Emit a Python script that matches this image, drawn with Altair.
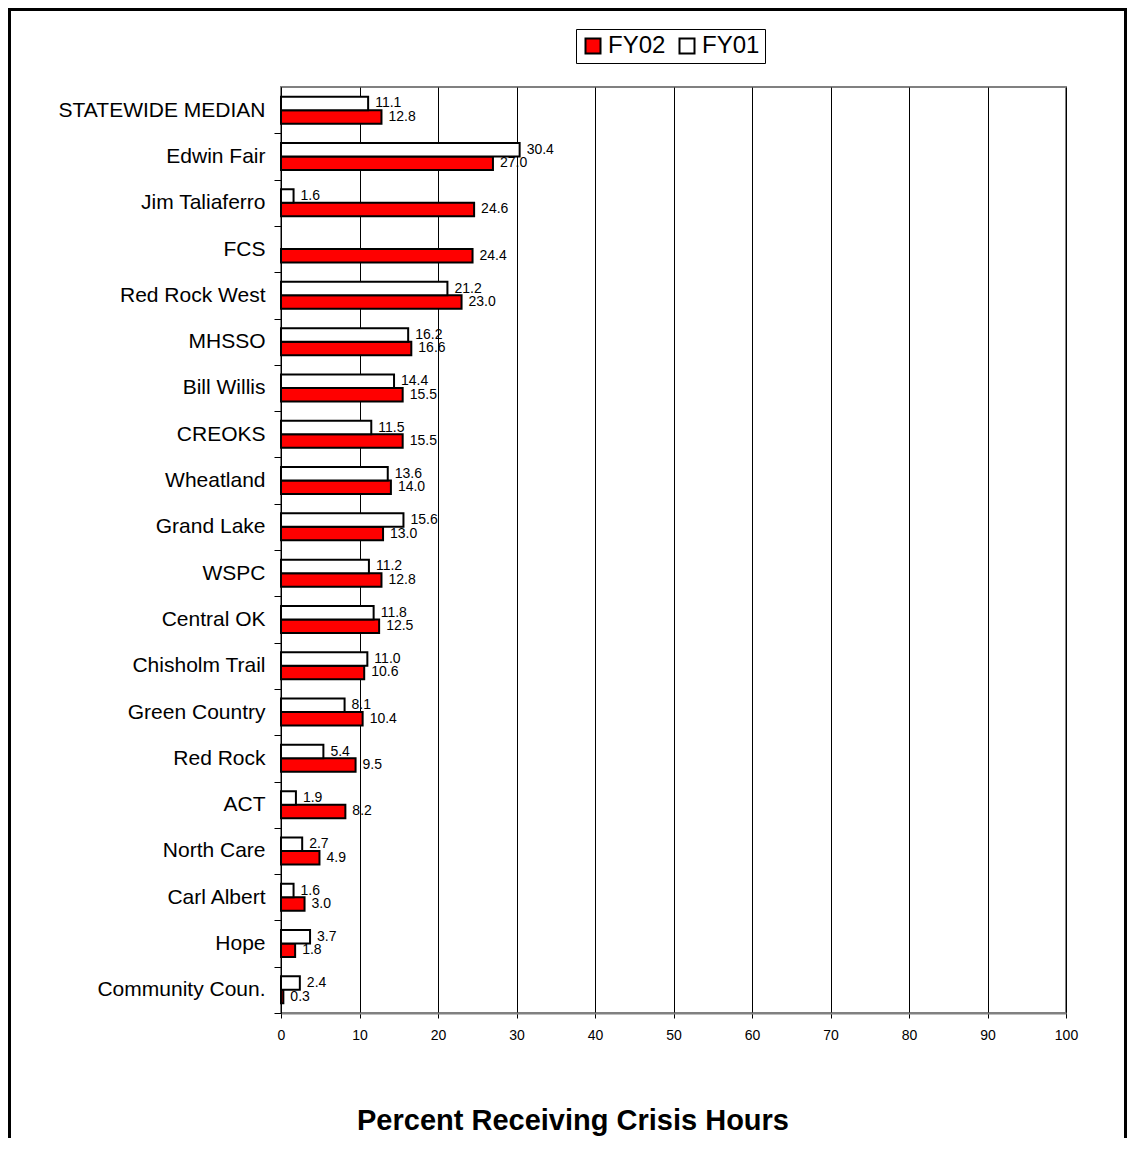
import altair as alt
import pandas as pd

categories = ["STATEWIDE MEDIAN", "Edwin Fair", "Jim Taliaferro", "FCS", "Red Rock West",
              "MHSSO", "Bill Willis", "CREOKS", "Wheatland", "Grand Lake", "WSPC",
              "Central OK", "Chisholm Trail", "Green Country", "Red Rock", "ACT",
              "North Care", "Carl Albert", "Hope", "Community Coun."]
fy02 = [12.8, 27.0, 24.6, 24.4, 23.0, 16.6, 15.5, 15.5, 14.0, 13.0, 12.8, 12.5, 10.6,
        10.4, 9.5, 8.2, 4.9, 3.0, 1.8, 0.3]
fy01 = [11.1, 30.4, 1.6, None, 21.2, 16.2, 14.4, 11.5, 13.6, 15.6, 11.2, 11.8, 11.0,
        8.1, 5.4, 1.9, 2.7, 1.6, 3.7, 2.4]
series = ["FY02", "FY01"]
series_colors = ["#ff0000", "#ffffff"]
x_ticks = list(range(0, 101, 10))
title_text = "Percent Receiving Crisis Hours"

rows = []
for c, a, b in zip(categories, fy02, fy01):
    rows.append({"center": c, "series": "FY02", "value": a})
    if b is not None:
        rows.append({"center": c, "series": "FY01", "value": b})
df = pd.DataFrame(rows)

W, H = 785, 926
PL, PT, PR, PB = 273, 79, 61, 125
FONT = "Liberation Sans"
HALF_STEP = H / len(categories) / 2

y_enc = alt.Y(
    "center:N", sort=categories, title=None,
    scale=alt.Scale(paddingInner=0.417, paddingOuter=0.2085),
    axis=alt.Axis(tickOffset=HALF_STEP, labelOffset=-HALF_STEP,
                  domainColor="black", domainWidth=1,
                  tickColor="black", tickSize=7, labelFontSize=21, labelFont=FONT,
                  labelColor="black", labelPadding=9, labelLimit=0, grid=False),
)
yoff = alt.YOffset("series:N", sort=["FY01", "FY02"])
x_enc = alt.X(
    "value:Q", title=None, scale=alt.Scale(domain=[0, 100], nice=False),
    axis=alt.Axis(values=x_ticks, grid=True, gridColor="black", gridWidth=1,
                  domainColor="#808080", domainWidth=2, tickColor="black", tickSize=5,
                  labelFontSize=14, labelFont="Liberation Sans Narrow, Liberation Sans",
                  labelColor="black", labelPadding=10, labelFlush=False),
)

bars = alt.Chart(df).mark_bar(stroke="black", strokeWidth=2).encode(
    x=x_enc, y=y_enc, yOffset=yoff,
    color=alt.Color("series:N", scale=alt.Scale(domain=series, range=series_colors),
                    legend=alt.Legend(orient="none", legendX=295, legendY=-58,
                                      direction="horizontal", columns=2, title=None,
                                      strokeColor="black", padding=5, fillColor="white",
                                      symbolType="square", symbolSize=225,
                                      symbolStrokeColor="black", symbolStrokeWidth=2,
                                      symbolOpacity=1, labelFontSize=24, labelFont=FONT,
                                      labelColor="black", labelOffset=3, columnPadding=9)),
)

labels = alt.Chart(df).mark_text(align="left", baseline="middle", dx=7, fontSize=14,
                                 font=FONT, color="black").encode(
    x="value:Q", y=alt.Y("center:N", sort=categories), yOffset=yoff,
    text=alt.Text("value:Q", format=".1f"),
)

one = pd.DataFrame({"k": [0]})
frame_left = alt.Chart(one).mark_rule(color="black", strokeWidth=3).encode(
    x=alt.value(-271.5), y=alt.value(-79), y2=alt.value(H + PB))
frame_right = alt.Chart(one).mark_rule(color="black", strokeWidth=3).encode(
    x=alt.value(W + PR - 1.5), y=alt.value(-79), y2=alt.value(H + PB))
frame_top = alt.Chart(one).mark_rule(color="black", strokeWidth=3).encode(
    x=alt.value(-273), x2=alt.value(W + PR), y=alt.value(-77.5))

title = alt.Chart(one).mark_text(text=title_text, fontSize=29, fontWeight="bold",
                                 font=FONT, color="black", align="center",
                                 baseline="middle").encode(
    x=alt.value(292), y=alt.value(1034))

chart = alt.layer(bars, labels, frame_left, frame_right, frame_top, title).properties(
    width=W, height=H,
    autosize=alt.AutoSizeParams(type="none"),
    padding={"left": PL, "top": PT, "right": PR, "bottom": PB},
).configure_view(stroke="#808080", strokeWidth=2)

chart.save("out.html", embed_options={"renderer": "svg", "actions": False})
